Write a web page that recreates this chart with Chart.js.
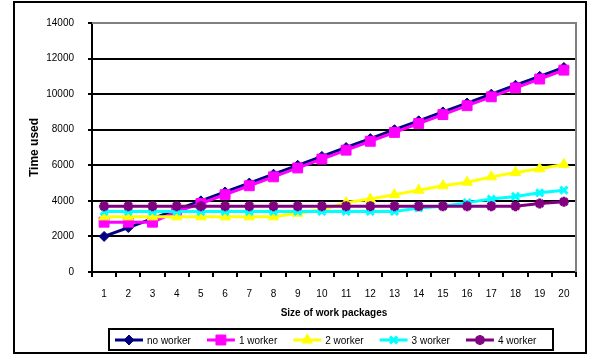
<!DOCTYPE html>
<html>
<head>
<meta charset="utf-8">
<script src="https://cdn.jsdelivr.net/npm/chart.js@4/dist/chart.umd.min.js"></script>
<style>
  html, body { margin: 0; padding: 0; background: #fff; }
  #frame { position: absolute; left: 13px; top: 1px; width: 570px; height: 349px; border: 2px solid #000; }
  canvas { display: block; }
</style>
</head>
<body>
<div id="frame"><canvas id="chart" width="570" height="349"></canvas></div>
<script>
const packageSizes = ["1", "2", "3", "4", "5", "6", "7", "8", "9", "10",
  "11", "12", "13", "14", "15", "16", "17", "18", "19", "20"];

const noWorker = [2000, 2500, 3000, 3500, 4000, 4500, 5000, 5500, 6000, 6500,
  7000, 7500, 8000, 8500, 9000, 9500, 10000, 10500, 11000, 11500];
const oneWorker = [2800, 2800, 2800, 3400, 3850, 4350, 4850, 5350, 5850, 6350,
  6850, 7350, 7850, 8350, 8850, 9350, 9850, 10350, 10850, 11350];
const twoWorker = [3100, 3100, 3100, 3100, 3100, 3100, 3100, 3100, 3300, 3500,
  3900, 4100, 4350, 4600, 4850, 5050, 5350, 5600, 5800, 6050];
const threeWorker = [3400, 3400, 3400, 3400, 3400, 3400, 3400, 3400, 3400, 3400,
  3400, 3400, 3400, 3600, 3700, 3900, 4100, 4250, 4450, 4600];
const fourWorker = [3700, 3700, 3700, 3700, 3700, 3700, 3700, 3700, 3700, 3700,
  3700, 3700, 3700, 3700, 3700, 3700, 3700, 3700, 3850, 3950];

const FONT = "'Liberation Sans', Arial, sans-serif";

function series(label, data, color, style, radius, bw, order) {
  return {
    label: label,
    data: data,
    borderColor: color,
    backgroundColor: color,
    borderWidth: 3,
    pointStyle: style,
    pointRadius: radius,
    pointBorderWidth: bw,
    tension: 0,
    fill: false,
    order: order // later series drawn on top, like the original
  };
}

// legend drawn as a framed box under the axis title
const boxLegend = {
  id: "boxLegend",
  afterDraw(chart) {
    const ctx = chart.ctx;
    ctx.save();
    ctx.strokeStyle = "#000";
    ctx.lineWidth = 2;
    ctx.strokeRect(94, 326, 444, 21);

    ctx.font = "10px " + FONT;
    ctx.textBaseline = "middle";
    let x = 100;
    const y = 337;
    chart.data.datasets.forEach(ds => {
      ctx.strokeStyle = ds.borderColor;
      ctx.fillStyle = ds.backgroundColor;
      ctx.lineWidth = 3;
      ctx.beginPath();
      ctx.moveTo(x, y);
      ctx.lineTo(x + 28, y);
      ctx.stroke();
      if (Chart.helpers && Chart.helpers.drawPoint) {
        ctx.lineWidth = ds.pointBorderWidth;
        Chart.helpers.drawPoint(ctx, {
          pointStyle: ds.pointStyle,
          radius: ds.pointRadius,
          borderWidth: ds.pointBorderWidth,
          rotation: 0
        }, x + 14, y);
      }
      ctx.fillStyle = "#000";
      ctx.fillText(ds.label, x + 32, y + 1);
      x += 32 + ctx.measureText(ds.label).width + 16;
    });
    ctx.restore();
  }
};

// grey top / right edge of the plot area
const plotEdge = {
  id: "plotEdge",
  afterDraw(chart) {
    const { ctx, chartArea: a } = chart;
    ctx.save();
    ctx.strokeStyle = "#808080";
    ctx.lineWidth = 2;
    ctx.beginPath();
    ctx.moveTo(a.left, a.top);
    ctx.lineTo(a.right, a.top);
    ctx.lineTo(a.right, a.bottom);
    ctx.stroke();
    ctx.restore();
  }
};

new Chart(document.getElementById("chart"), {
  type: "line",
  data: {
    labels: packageSizes,
    datasets: [
      series("no worker", noWorker, "#000080", "rectRot", 5, 1, 5),
      series("1 worker", oneWorker, "#FF00FF", "rect", 7, 1, 4),
      series("2 worker", twoWorker, "#FFFF00", "triangle", 6, 1, 3),
      series("3 worker", threeWorker, "#00FFFF", "crossRot", 5, 3, 2),
      series("4 worker", fourWorker, "#800080", "star", 5, 3, 1)
    ]
  },
  options: {
    responsive: false,
    animation: false,
    layout: { padding: { left: 0, right: 9, top: 18, bottom: 30 } },
    plugins: {
      legend: { display: false },
      tooltip: { enabled: false }
    },
    scales: {
      x: {
        offset: true,
        grid: { offset: true, drawOnChartArea: false, color: "#000", lineWidth: 2, tickLength: 5 },
        border: { color: "#000", width: 2 },
        ticks: { color: "#000", font: { family: FONT, size: 10 }, padding: 11, maxRotation: 0, autoSkip: false },
        title: {
          display: true,
          text: "Size of work packages",
          color: "#000",
          font: { family: FONT, size: 10, weight: "bold" },
          padding: { top: 0, bottom: 3 }
        },
        afterFit(scale) { scale.height = 50; }
      },
      y: {
        min: 0,
        max: 14000,
        ticks: {
          stepSize: 2000,
          color: "#000",
          font: { family: FONT, size: 10 },
          padding: 14,
          callback: v => String(v)
        },
        grid: {
          color: c => (c.tick && c.tick.value === 14000 ? "#808080" : "#000"),
          tickColor: "#000",
          lineWidth: 2,
          tickLength: 4
        },
        border: { color: "#000", width: 2 },
        title: {
          display: true,
          text: "Time used",
          color: "#000",
          font: { family: FONT, size: 12, weight: "bold" },
          padding: { top: 12, bottom: 0 }
        },
        afterFit(scale) { scale.width = 77; }
      }
    }
  },
  plugins: [plotEdge, boxLegend]
});
</script>
</body>
</html>
